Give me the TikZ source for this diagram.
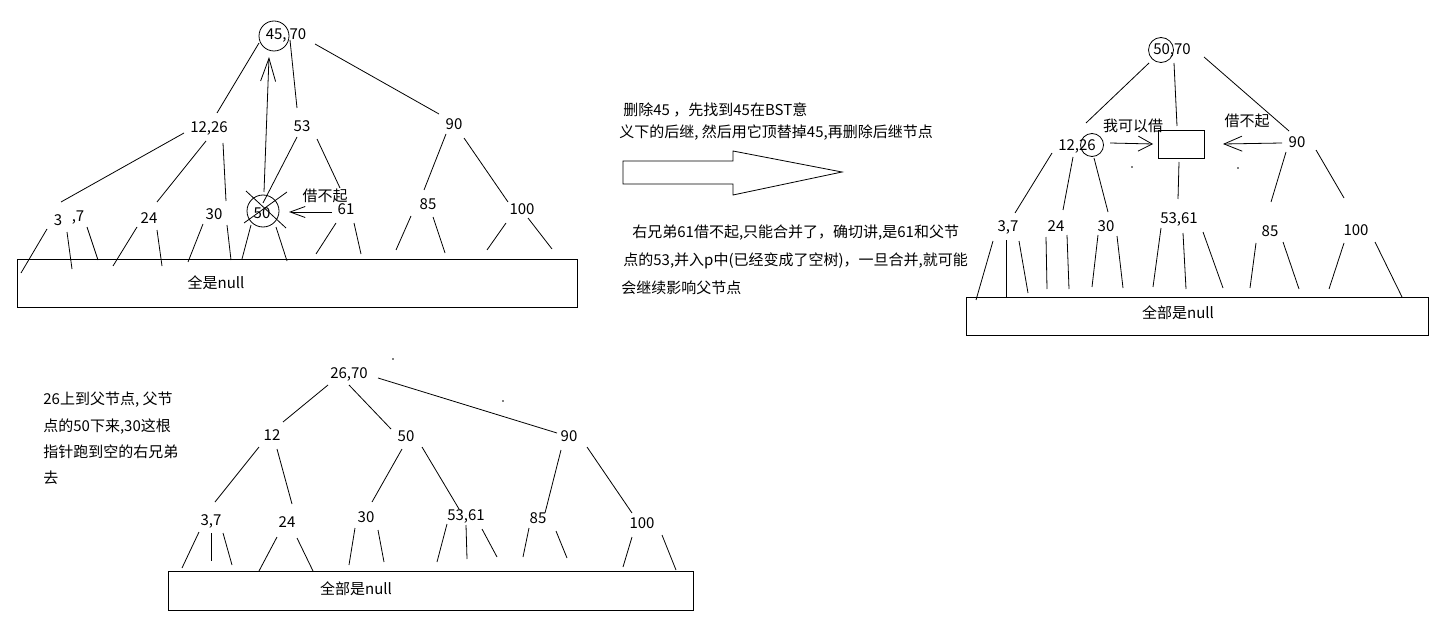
\documentclass[tikz,border=0pt]{standalone}
\usepackage{fontspec}
\setmainfont{Noto Sans CJK SC}
\usetikzlibrary{calc,arrows.meta}
\newcommand\treeedge[4]{\draw ($(#1)+(#2)$) -- ($(#3)+(#4)$);}
\newcommand\nullline[3]{\draw ($(#1)+(#2)$) -- ++(#3);}
\tikzset{
  lbl/.style={inner sep=0pt, font=\fontsize{15pt}{18pt}\selectfont},
  para/.style={lbl, anchor=west},
  ring/.style={draw, circle, inner sep=0pt},
  nullbox/.style={draw, inner sep=0pt},
}
\begin{document}
\begin{tikzpicture}[x=1pt,y=-1pt,line width=0.8pt]
\useasboundingbox (0,0) rectangle (1453,631);

% ================= top-left tree =================
\node[lbl] (r1) at (286,35) {45,\kern3pt70};
\node[ring, minimum size=30pt] (r1c) at (274,36) {};
\node[lbl] (a1226) at (209,128) {12,26};
\node[lbl] (a53) at (302,126) {53};
\node[lbl] (a90) at (454,124) {90};
\node[lbl] (a3) at (58,220) {3};
\node[lbl] (a7) at (78,218) {,7};
\node[lbl] (a24) at (149,218) {24};
\node[lbl] (a30) at (214,214) {30};
\node[lbl] (a50) at (262,213) {50};
\node[ring, minimum size=32pt] (a50c) at (263,211) {};
\node[lbl] (a61) at (346,209) {61};
\node[lbl] (a85) at (428,204) {85};
\node[lbl] (a100) at (522,209) {100};
\node[lbl] (jbq1) at (325,196) {借不起};
\node[nullbox, minimum width=560pt, minimum height=48pt] (box1) at (297,283) {};
\node[lbl] (box1t) at (216,283) {全是null};

\treeedge{r1}{-27,8}{a1226}{8,-15}
\treeedge{r1}{4,5}{a53}{-5,-18}
\treeedge{r1}{29,9}{a90}{-15,-10}
\draw[-{Straight Barb[length=23pt,width=15pt]}] ($(a50)+(2,-21)$) -- ($(r1)+(-17,22)$);
\treeedge{a1226}{-25,5}{a3}{3,-18}
\treeedge{a1226}{-3,13}{a24}{8,-16}
\treeedge{a1226}{14,15}{a30}{12,-13}
\treeedge{a53}{-5,11}{a50}{1,-10}
\treeedge{a53}{15,13}{a61}{-6,-21}
\treeedge{a90}{-8,10}{a85}{-4,-14}
\treeedge{a90}{10,14}{a100}{-14,-7}
\draw[-{Straight Barb[length=15pt,width=11pt]}] ($(a61)+(-14,3)$) -- ($(a50)+(27,-1)$);
% cross over 50
\draw ($(a50)+(-16,-22)$) -- ++(40,37);
\draw ($(a50)+(25,-21)$) -- ++(-43,31);

\nullline{a3}{-11,9}{-26,44}
\nullline{a7}{-11,14}{5,37}
\nullline{a7}{9,9}{11,33}
\nullline{a24}{-12,9}{-24,39}
\nullline{a24}{8,12}{5,36}
\nullline{a30}{-11,10}{-15,38}
\nullline{a30}{13,11}{4,35}
\nullline{a50}{-11,12}{-9,34}
\nullline{a50}{14,14}{11,34}
\nullline{a61}{-10,14}{-20,31}
\nullline{a61}{8,14}{7,31}
\nullline{a85}{-17,12}{-15,34}
\nullline{a85}{5,13}{12,36}
\nullline{a100}{-16,14}{-19,27}
\nullline{a100}{6,9}{24,31}

% ================= middle text and arrow =================
\node[para] (m1) at (623,110) {删除45 ，先找到45在BST意};
\node[para] (m2) at (619,133) {义下的后继, 然后用它顶替掉45,再删除后继节点};
\draw (623,161) -- (733,161) -- (733,151) -- (842,172) -- (733,195) -- (733,184) -- (623,184) -- cycle;
\node[para] (m3) at (632,233) {右兄弟61借不起,只能合并了，确切讲,是61和父节};
\node[para] (m4) at (623,261) {点的53,并入p中(已经变成了空树)，一旦合并,就可能};
\node[para] (m5) at (621,288) {会继续影响父节点};

% ================= right tree =================
\node[lbl] (br) at (1172,50) {50,70};
\node[ring, minimum size=25pt] (brc) at (1161,50) {};
\node[lbl] (b1226) at (1077,146) {12,26};
\node[ring, minimum size=23pt] (b1226c) at (1092,145) {};
\node[draw, minimum width=46pt, minimum height=28pt, inner sep=0pt] (bbox) at (1181,144) {};
\node[lbl] (wkyj) at (1133,126) {我可以借};
\node[lbl] (jbq2) at (1247,121) {借不起};
\node[lbl] (b90) at (1297,142) {90};
\node[lbl] (b37) at (1008,227) {3,7};
\node[lbl] (b24) at (1056,226) {24};
\node[lbl] (b30) at (1106,226) {30};
\node[lbl] (b5361) at (1179,219) {53,61};
\node[lbl] (b85) at (1270,231) {85};
\node[lbl] (b100) at (1356,230) {100};
\node[nullbox, minimum width=462pt, minimum height=38pt] (box2) at (1197,316) {};
\node[lbl] (box2t) at (1178,313) {全部是null};

\treeedge{br}{-23,13}{b1226}{9,-23}
\treeedge{br}{2,13}{bbox}{-4,-18}
\treeedge{br}{32,7}{b90}{-8,-11}
\draw[-{Straight Barb[length=14pt,width=15pt]}] ($(b1226)+(33,-3)$) -- ($(bbox)+(-28,0)$);
\draw[-{Straight Barb[length=18pt,width=15pt]}] ($(b90)+(-15,1)$) -- ($(bbox)+(42,0)$);
\treeedge{bbox}{-2,18}{b5361}{-1,-20}
\treeedge{b1226}{-25,7}{b37}{7,-14}
\treeedge{b1226}{-4,11}{b24}{7,-16}
\treeedge{b1226}{17,12}{b30}{2,-14}
\treeedge{b90}{-11,10}{b85}{1,-29}
\treeedge{b90}{19,8}{b100}{-12,-32}
\fill (1132,167) circle (0.8pt);
\fill (1238,168) circle (0.8pt);

\nullline{b37}{-15,14}{-17,59}
\nullline{b37}{-2,13}{0,57}
\nullline{b37}{11,14}{9,52}
\nullline{b24}{-10,11}{1,52}
\nullline{b24}{11,9}{2,54}
\nullline{b30}{-8,9}{-6,52}
\nullline{b30}{11,10}{6,52}
\nullline{b5361}{-18,9}{-8,59}
\nullline{b5361}{4,14}{3,56}
\nullline{b5361}{24,13}{20,56}
\nullline{b85}{-14,12}{-6,45}
\nullline{b85}{13,11}{16,47}
\nullline{b100}{-12,13}{-15,46}
\nullline{b100}{19,12}{27,55}

% ================= bottom tree =================
\node[para] (t1) at (43,400) {26上到父节点, 父节};
\node[para] (t2) at (43,427) {点的50下来,30这根};
\node[para] (t3) at (43,452) {指针跑到空的右兄弟};
\node[para] (t4) at (43,478) {去};
\node[lbl] (cr) at (349,374) {26,70};
\node[lbl] (c12) at (272,435) {12};
\node[lbl] (c50) at (406,436) {50};
\node[lbl] (c90) at (569,436) {90};
\node[lbl] (c37) at (211,521) {3,7};
\node[lbl] (c24) at (287,522) {24};
\node[lbl] (c30) at (366,517) {30};
\node[lbl] (c5361) at (466,516) {53,61};
\node[lbl] (c85) at (538,518) {85};
\node[lbl] (c100) at (642,523) {100};
\node[nullbox, minimum width=525pt, minimum height=39pt] (box3) at (430.5,590.5) {};
\node[lbl] (box3t) at (356,589) {全部是null};
\fill (393,359) circle (0.8pt);
\fill (503,401) circle (0.8pt);

\treeedge{cr}{-21,11}{c12}{11,-13}
\treeedge{cr}{0,11}{c50}{-15,-7}
\treeedge{cr}{29,4}{c90}{-12,-3}
\treeedge{c12}{-13,12}{c37}{4,-19}
\treeedge{c12}{5,14}{c24}{5,-18}
\treeedge{c50}{-4,13}{c30}{6,-15}
\treeedge{c50}{16,11}{c5361}{-7,-7}
\treeedge{c90}{-8,14}{c85}{7,-5}
\treeedge{c90}{18,11}{c100}{-10,-10}

\nullline{c37}{-12,11}{-17,36}
\nullline{c37}{0,12}{0,28}
\nullline{c37}{12,12}{9,32}
\nullline{c24}{-10,15}{-18,34}
\nullline{c24}{10,16}{16,33}
\nullline{c30}{-11,11}{-6,37}
\nullline{c30}{12,13}{6,32}
\nullline{c5361}{-19,8}{-10,38}
\nullline{c5361}{0,9}{1,34}
\nullline{c5361}{16,13}{15,28}
\nullline{c85}{-9,10}{-6,29}
\nullline{c85}{18,13}{11,27}
\nullline{c100}{-10,14}{-9,30}
\nullline{c100}{20,12}{14,35}
\end{tikzpicture}
\end{document}
